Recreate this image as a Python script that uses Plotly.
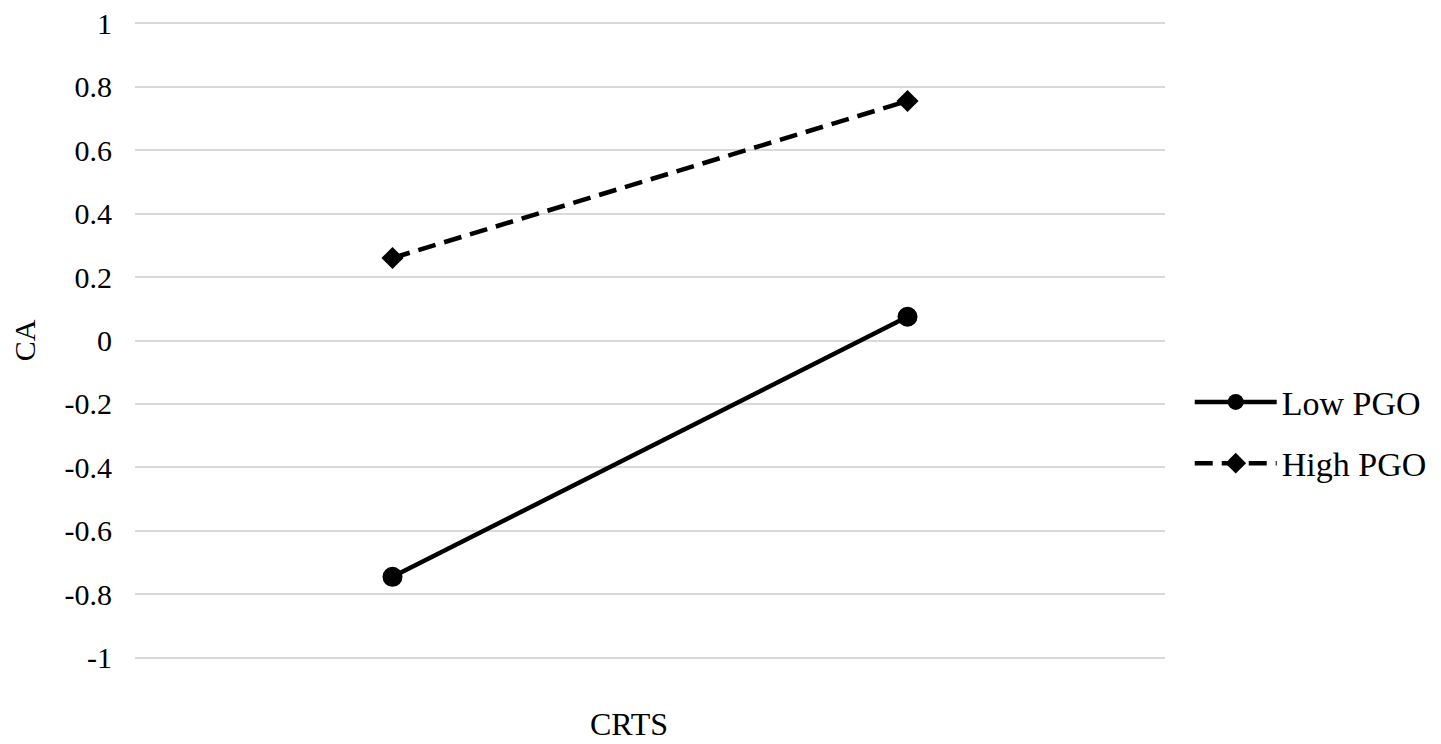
import plotly.graph_objects as go

# data
categories = ["Low CRTS", "High CRTS"]
low_pgo = [-0.745, 0.075]
high_pgo = [0.26, 0.755]
y_ticks = [1, 0.8, 0.6, 0.4, 0.2, 0, -0.2, -0.4, -0.6, -0.8, -1]
y_tick_text = ["1", "0.8", "0.6", "0.4", "0.2", "0", "-0.2", "-0.4", "-0.6", "-0.8", "-1"]

font = "Liberation Serif, Times New Roman, serif"

fig = go.Figure()
fig.add_trace(go.Scatter(
    x=[0, 1], y=low_pgo, name="Low PGO", mode="lines+markers",
    legendgroup="low",
    line=dict(color="black", width=4.5),
    marker=dict(symbol="circle", size=20, color="black"),
))
fig.add_trace(go.Scatter(
    x=[0, 1], y=high_pgo, name="High PGO", mode="lines+markers",
    legendgroup="high",
    line=dict(color="black", width=4.5, dash="18px,9px"),
    marker=dict(symbol="diamond", size=17, color="black"),
))

# page body has an 8px offset, margins compensate for it
fig.update_layout(
    width=1441, height=744,
    margin=dict(l=127, r=284, t=14, b=93, autoexpand=False),
    paper_bgcolor="white", plot_bgcolor="white",
    font=dict(family=font, size=30, color="black"),
    showlegend=True,
    legend=dict(x=1.024, y=0.355, xanchor="left", yanchor="middle",
                font=dict(size=34, family=font), tracegroupgap=14,
                itemwidth=82, bgcolor="rgba(0,0,0,0)"),
    xaxis=dict(range=[-0.5, 1.5], showticklabels=False, showgrid=False,
               zeroline=False, showline=False, automargin=False),
    yaxis=dict(range=[-1.004, 1.004], tickvals=y_ticks, ticktext=y_tick_text,
               showgrid=True, gridcolor="#d9d9d9", gridwidth=1.5,
               zeroline=False, showline=False, ticks="", ticklabelstandoff=22,
               ticklabeloverflow="allow",
               tickfont=dict(size=30), automargin=False),
)
fig.add_annotation(text="CA", x=-0.107, y=0.5, xref="x domain", yref="y domain",
                   xanchor="center", yanchor="middle", showarrow=False,
                   textangle=-90, font=dict(size=30))
fig.add_annotation(text="CRTS", x=0.48, y=-0.102, xref="x domain", yref="y domain",
                   xanchor="center", yanchor="middle", showarrow=False,
                   font=dict(size=32))

fig.write_html("out.html")
